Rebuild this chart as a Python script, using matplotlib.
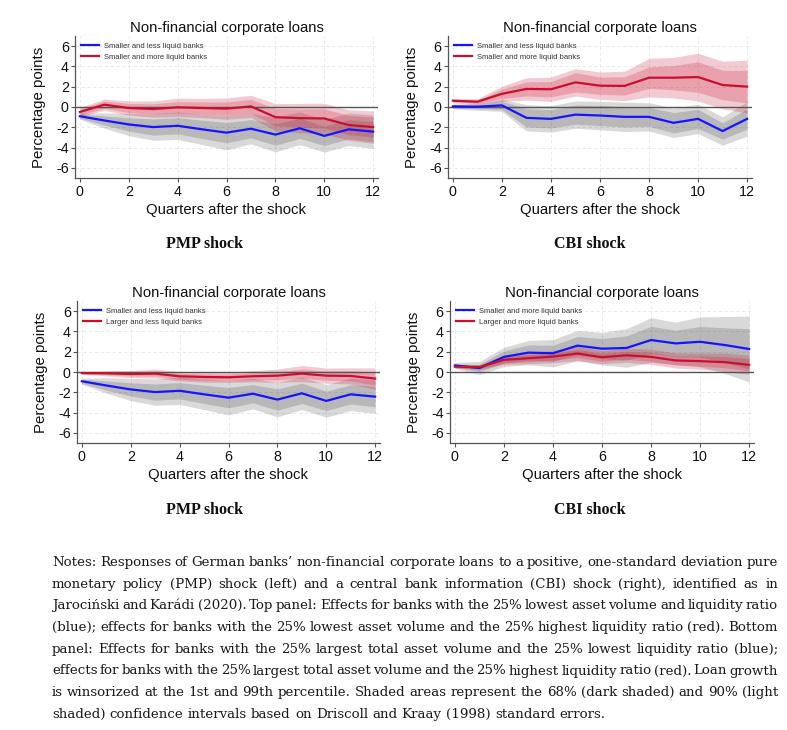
import matplotlib
matplotlib.use("Agg")
import matplotlib.pyplot as plt
from matplotlib.font_manager import FontProperties

# ---------------- data ----------------
quarters = list(range(13))
xticks = [0, 2, 4, 6, 8, 10, 12]
yticks = [-6, -4, -2, 0, 2, 4, 6]
panel_title = "Non-financial corporate loans"
xlabel = "Quarters after the shock"
ylabel = "Percentage points"
shock_labels = ["PMP shock", "CBI shock"]

# PMP shock, smaller and less liquid banks (top-left and bottom-left, blue)
pmp_small_less = [-0.91, -1.33, -1.72, -1.98, -1.85, -2.20, -2.53, -2.14, -2.72, -2.10, -2.85, -2.20, -2.43]
pmp_small_less_h68 = [0.20, 0.45, 0.65, 0.80, 0.80, 0.90, 1.00, 0.90, 1.05, 1.00, 0.95, 0.95, 1.00]
pmp_small_less_h90 = [0.30, 0.75, 1.10, 1.30, 1.35, 1.50, 1.70, 1.50, 1.70, 1.60, 1.60, 1.60, 1.65]

# PMP shock, smaller and more liquid banks (top-left, red)
pmp_small_more = [-0.49, 0.23, -0.10, -0.20, -0.03, -0.10, -0.16, 0.06, -1.00, -1.10, -1.13, -1.78, -1.98]
pmp_small_more_h68 = [0.30, 0.35, 0.45, 0.50, 0.55, 0.60, 0.65, 0.70, 0.85, 0.90, 0.95, 0.95, 1.00]
pmp_small_more_h90 = [0.45, 0.55, 0.70, 0.80, 0.90, 0.95, 1.05, 1.10, 1.35, 1.45, 1.50, 1.50, 1.60]

# CBI shock, smaller and less liquid banks (top-right, blue)
cbi_small_less = [0.06, 0.03, 0.16, -1.07, -1.17, -0.75, -0.84, -0.97, -0.97, -1.56, -1.17, -2.37, -1.17]
cbi_small_less_h68 = [0.15, 0.20, 0.40, 0.90, 0.90, 0.95, 1.00, 1.00, 0.95, 1.00, 0.95, 0.80, 1.00]
cbi_small_less_h90 = [0.25, 0.35, 0.60, 1.30, 1.30, 1.35, 1.40, 1.45, 1.40, 1.45, 1.45, 1.40, 1.70]

# CBI shock, smaller and more liquid banks (top-right red, bottom-right blue)
cbi_small_more_top = [0.62, 0.52, 1.30, 1.78, 1.75, 2.43, 2.10, 2.08, 2.89, 2.89, 2.95, 2.17, 2.01]
cbi_small_more_top_h68 = [0.10, 0.15, 0.45, 0.70, 0.75, 0.95, 0.85, 0.90, 1.05, 1.20, 1.50, 1.45, 1.60]
cbi_small_more_top_h90 = [0.20, 0.30, 0.75, 1.10, 1.20, 1.35, 1.35, 1.45, 1.90, 2.00, 2.35, 2.35, 2.60]

cbi_small_more_bot = [0.65, 0.39, 1.49, 1.91, 1.85, 2.60, 2.30, 2.37, 3.15, 2.82, 2.98, 2.66, 2.27]
cbi_small_more_bot_h68 = [0.15, 0.35, 0.60, 0.75, 0.80, 0.90, 1.00, 1.20, 1.35, 1.30, 1.50, 1.70, 2.00]
cbi_small_more_bot_h90 = [0.30, 0.65, 0.95, 1.20, 1.35, 1.50, 1.60, 1.90, 2.20, 2.10, 2.45, 2.80, 3.25]

# PMP shock, larger and less liquid banks (bottom-left, red)
pmp_large_less = [-0.10, -0.13, -0.20, -0.16, -0.42, -0.49, -0.52, -0.42, -0.36, -0.16, -0.36, -0.39, -0.65]
pmp_large_less_h68 = [0.10, 0.15, 0.20, 0.25, 0.30, 0.30, 0.30, 0.35, 0.40, 0.45, 0.45, 0.50, 0.65]
pmp_large_less_h90 = [0.15, 0.25, 0.35, 0.45, 0.45, 0.50, 0.50, 0.55, 0.65, 0.80, 0.75, 0.80, 1.05]

# CBI shock, larger and more liquid banks (bottom-right, red)
cbi_large_more = [0.52, 0.49, 1.20, 1.36, 1.52, 1.82, 1.46, 1.65, 1.49, 1.14, 1.07, 0.97, 0.71]
cbi_large_more_h68 = [0.10, 0.15, 0.30, 0.35, 0.35, 0.40, 0.40, 0.40, 0.45, 0.45, 0.50, 0.55, 0.60]
cbi_large_more_h90 = [0.15, 0.25, 0.45, 0.55, 0.60, 0.70, 0.65, 0.70, 0.75, 0.75, 0.80, 0.90, 0.95]

lbl_small_less = "Smaller and less liquid banks"
lbl_small_more = "Smaller and more liquid banks"
lbl_large_less = "Larger and less liquid banks"
lbl_large_more = "Larger and more liquid banks"

notes_lines = [
    "Notes: Responses of German banks\u2019 non-financial corporate loans to a positive, one-standard deviation pure",
    "monetary policy (PMP) shock (left) and a central bank information (CBI) shock (right), identified as in",
    "Jaroci\u0144ski and Kar\u00e1di (2020). Top panel: Effects for banks with the 25% lowest asset volume and liquidity ratio",
    "(blue); effects for banks with the 25% lowest asset volume and the 25% highest liquidity ratio (red). Bottom",
    "panel: Effects for banks with the 25% largest total asset volume and the 25% lowest liquidity ratio (blue);",
    "effects for banks with the 25% largest total asset volume and the 25% highest liquidity ratio (red). Loan growth",
    "is winsorized at the 1st and 99th percentile. Shaded areas represent the 68% (dark shaded) and 90% (light",
    "shaded) confidence intervals based on Driscoll and Kraay (1998) standard errors.",
]

# ---------------- style ----------------
W, H = 787, 730
plt.rcParams['font.family'] = ['Liberation Sans', 'DejaVu Sans']
plt.rcParams['axes.unicode_minus'] = False

BLUE = '#1414ff'
RED = '#c8102e'
SPINE = '#555555'

fig = plt.figure(figsize=(W / 100, H / 100), dpi=100)


def add_axes_px(l, t, r, b):
    return fig.add_axes([l / W, 1 - b / H, (r - l) / W, (b - t) / H])


panels = [
    ((75, 36, 378, 178),
     (pmp_small_less, pmp_small_less_h68, pmp_small_less_h90, lbl_small_less),
     (pmp_small_more, pmp_small_more_h68, pmp_small_more_h90, lbl_small_more)),
    ((448, 36, 752, 178),
     (cbi_small_less, cbi_small_less_h68, cbi_small_less_h90, lbl_small_less),
     (cbi_small_more_top, cbi_small_more_top_h68, cbi_small_more_top_h90, lbl_small_more)),
    ((77, 301, 380, 443),
     (pmp_small_less, pmp_small_less_h68, pmp_small_less_h90, lbl_small_less),
     (pmp_large_less, pmp_large_less_h68, pmp_large_less_h90, lbl_large_less)),
    ((450, 301, 754, 443),
     (cbi_small_more_bot, cbi_small_more_bot_h68, cbi_small_more_bot_h90, lbl_small_more),
     (cbi_large_more, cbi_large_more_h68, cbi_large_more_h90, lbl_large_more)),
]

for box, blue_s, red_s in panels:
    ax = add_axes_px(*box)
    for (vals, h68, h90, lab), shade in ((blue_s, 'black'), (red_s, RED)):
        lo90 = [v - h for v, h in zip(vals, h90)]
        hi90 = [v + h for v, h in zip(vals, h90)]
        lo68 = [v - h for v, h in zip(vals, h68)]
        hi68 = [v + h for v, h in zip(vals, h68)]
        a = 0.15 if shade == 'black' else 0.22
        ax.fill_between(quarters, lo90, hi90, color=shade, alpha=a, lw=0, zorder=1)
        ax.fill_between(quarters, lo68, hi68, color=shade, alpha=a, lw=0, zorder=1)
    ax.axhline(0, color='#555555', lw=1.0, zorder=2)
    ax.plot(quarters, blue_s[0], color=BLUE, lw=1.6, zorder=3, label=blue_s[3])
    ax.plot(quarters, red_s[0], color=RED, lw=1.6, zorder=3, label=red_s[3])

    ax.set_xlim(-0.2, 12.2)
    ax.set_ylim(-7, 7)
    ax.set_xticks(xticks)
    ax.set_yticks(yticks)
    ax.tick_params(axis='both', labelsize=10.3, length=3, width=0.8, color=SPINE,
                   labelcolor='#111111')
    ax.tick_params(axis='y', pad=1.5)
    ax.tick_params(axis='x', pad=2)
    for s in ('top', 'right'):
        ax.spines[s].set_visible(False)
    for s in ('left', 'bottom'):
        ax.spines[s].set_color(SPINE)
        ax.spines[s].set_linewidth(0.9)
    ax.grid(True, color='#e6e6e6', lw=0.6, ls=(0, (4, 3)), zorder=0)
    ax.set_axisbelow(True)
    ax.set_title(panel_title, fontsize=10.7, color='#111111', pad=3)
    ax.set_xlabel(xlabel, fontsize=10.7, color='#111111', labelpad=3)
    ax.set_ylabel(ylabel, fontsize=10.8, color='#111111', labelpad=7)
    leg = ax.legend(loc='upper left', bbox_to_anchor=(0.02, 0.955), frameon=False,
                    fontsize=5.5, handlelength=2.4, handletextpad=0.55,
                    labelspacing=0.45, borderpad=0, borderaxespad=0)
    for t in leg.get_texts():
        t.set_color('#333333')

# shock labels
for (x, y), s in zip([(205, 244), (590, 244), (205, 510), (590, 510)],
                     shock_labels + shock_labels):
    fig.text(x / W, 1 - y / H, s, fontsize=11.5, fontweight='bold',
             family='Liberation Serif', ha='center', va='center', color='#111111')

# ---------------- notes (justified) ----------------
fig.canvas.draw()
renderer = fig.canvas.get_renderer()
left_px, right_px = 52, 778
target = right_px - left_px
NOTE_FONT = 'DejaVu Serif'


def width(s, fp):
    return renderer.get_text_width_height_descent(s, fp, ismath=False)[0]


fp10 = FontProperties(family=NOTE_FONT, size=10)
space10 = width('a a', fp10) - width('aa', fp10)
# allow the tightest line to be set with half a normal word space
nat = max(sum(width(w, fp10) for w in ln.split()) + 0.5 * space10 * (len(ln.split()) - 1)
          for ln in notes_lines)
fs = min(10 * (target - 1) / nat, 11.0)
fp = FontProperties(family=NOTE_FONT, size=fs)
space = width('a a', fp) - width('aa', fp)

base0, step = 566, 21.7
for i, ln in enumerate(notes_lines):
    words = ln.split()
    ws = [width(w, fp) for w in words]
    if i < len(notes_lines) - 1 and len(words) > 1:
        gap = (target - sum(ws)) / (len(words) - 1)
    else:
        gap = space
    x = left_px
    y = base0 + i * step
    for w, wd in zip(words, ws):
        fig.text(x / W, 1 - y / H, w, fontproperties=fp, ha='left', va='baseline',
                 color='#1a1a1a')
        x += wd + gap

fig.savefig('out.png', dpi=100)
